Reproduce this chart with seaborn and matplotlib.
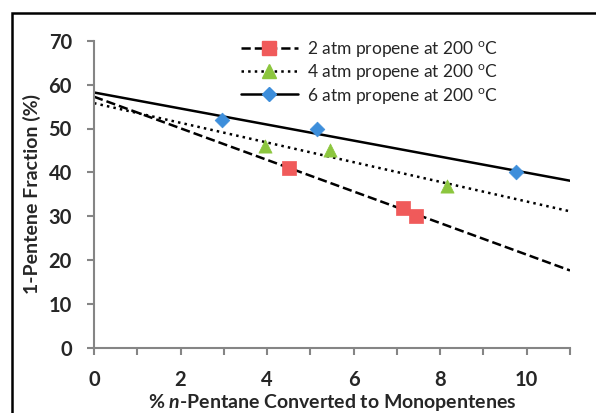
import matplotlib
matplotlib.use("Agg")
import matplotlib.pyplot as plt
from matplotlib.lines import Line2D
from matplotlib.patches import Rectangle
import numpy as np
import pandas as pd
import seaborn as sns

# ── Data ──────────────────────────────────────────────────────────────────────
series_names = ["2 atm propene at 200 $^{\\rm o}$C",
                "4 atm propene at 200 $^{\\rm o}$C",
                "6 atm propene at 200 $^{\\rm o}$C"]
x_2atm = [4.5, 7.15, 7.45]
y_2atm = [41, 32, 30]
x_4atm = [3.95, 5.45, 8.15]
y_4atm = [46, 45, 37]
x_6atm = [2.95, 5.15, 9.75]
y_6atm = [52, 50, 40]

x_ticks = [0, 2, 4, 6, 8, 10]
y_ticks = [0, 10, 20, 30, 40, 50, 60, 70]

# ── Style ─────────────────────────────────────────────────────────────────────
sns.set_style("white")
plt.rcParams["font.family"] = ["Lato", "DejaVu Sans"]
plt.rcParams["mathtext.fontset"] = "custom"
plt.rcParams["mathtext.rm"] = "Lato"
plt.rcParams["mathtext.it"] = "Lato:italic"
plt.rcParams["mathtext.bf"] = "Lato:bold"
plt.rcParams["mathtext.bfit"] = "Lato:bold:italic"

spine_col = "#858585"
styles = [
    dict(ls="--", marker="s", color="#F05A5A", ms=9.5),
    dict(ls=":", marker="^", color="#8CC63E", ms=9.5),
    dict(ls="-", marker="D", color="#3D8EDB", ms=7.5),
]
data = [(x_2atm, y_2atm), (x_4atm, y_4atm), (x_6atm, y_6atm)]

fig = plt.figure(figsize=(5.96, 4.13), dpi=100)
ax = fig.add_axes([94 / 596, 65 / 413, 476 / 596, 307.3 / 413])
ax.set_xlim(0, 11)
ax.set_ylim(0, 70)

handles = []
for (xs, ys), st, name in zip(data, styles, series_names):
    df = pd.DataFrame({"x": xs, "y": ys})
    sns.regplot(data=df, x="x", y="y", ax=ax, scatter=False, ci=None, truncate=False,
                line_kws=dict(color="black", lw=1.8, ls=st["ls"]))
    sns.scatterplot(data=df, x="x", y="y", ax=ax, marker=st["marker"], s=st["ms"] ** 2,
                    color=st["color"], edgecolor=st["color"], linewidth=0.5, zorder=5)
    handles.append(Line2D([], [], color="black", lw=1.8, ls=st["ls"], marker=st["marker"],
                          ms=st["ms"], markerfacecolor=st["color"],
                          markeredgecolor=st["color"], label=name))

ax.set_xticks(x_ticks)
ax.set_xticks(range(0, 12), minor=True)
ax.set_yticks(y_ticks)
for s in ["top", "right"]:
    ax.spines[s].set_visible(False)
for s in ["left", "bottom"]:
    ax.spines[s].set_color(spine_col)
    ax.spines[s].set_linewidth(1.5)
ax.tick_params(axis="both", which="both", direction="out", length=5, width=1.5,
               color=spine_col, labelsize=14.5, bottom=True, left=True)
ax.tick_params(axis="x", pad=11)
ax.tick_params(axis="y", pad=11)
for lab in ax.get_xticklabels() + ax.get_yticklabels():
    lab.set_fontweight("bold")

ax.set_xlabel(r"% $\mathbfit{n}$-Pentane Converted to Monopentenes",
              fontsize=14, fontweight="bold", labelpad=1)
ax.set_ylabel("1-Pentene Fraction (%)", fontsize=14, fontweight="bold", labelpad=5)

ax.legend(handles=handles, loc="upper left", bbox_to_anchor=(0.29, 1.035),
          frameon=False, fontsize=12.5, borderpad=0, handlelength=3.3,
          handletextpad=0.5, labelspacing=0.2)

fig.patches.append(Rectangle((12 / 596, -0.1), 1.2, 1 - 13 / 413 + 0.1,
                             transform=fig.transFigure, fill=False,
                             edgecolor="black", lw=1.8))

fig.savefig("out.png", dpi=100)
